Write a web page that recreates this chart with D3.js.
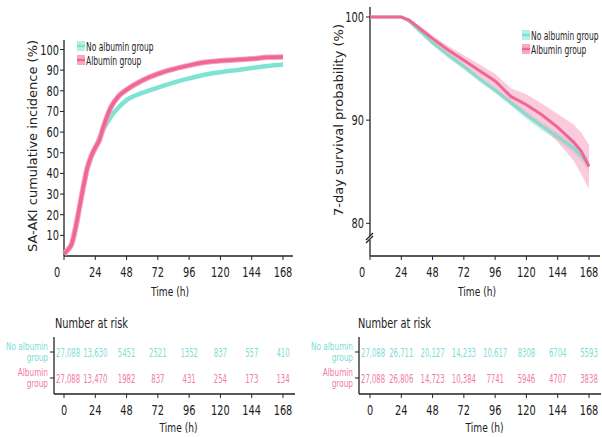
<!DOCTYPE html>
<html>
<head>
<meta charset="utf-8">
<script src="https://cdn.jsdelivr.net/npm/d3@7"></script>
<style>
  body { margin: 0; background: #fff; }
  svg text { font-family: "DejaVu Sans", sans-serif; fill: #222; }
</style>
</head>
<body>
<div id="chart"></div>
<script>
// ---- data ----
var hourTicks = [0, 24, 48, 72, 96, 120, 144, 168];
var groups = ["No albumin group", "Albumin group"];

// cumulative incidence of SA-AKI (%)
var incTime = [0, 3, 6, 9, 12, 15, 18, 21, 24, 27, 30, 33, 36, 42, 48, 60, 72, 84, 96, 108, 120, 132, 144, 156, 168];
var incNoAlb = [1, 3, 6, 14, 24, 34, 42, 48, 52, 57, 61, 64.5, 67.5, 72, 75.5, 79, 81.5, 84, 86, 87.8, 89, 90, 91, 92, 92.7];
var incAlb = [1, 3, 6, 14, 24, 34, 43, 48.5, 52.5, 56, 62, 67.5, 72, 77.5, 80.5, 85, 88.2, 90.5, 92.3, 93.8, 94.6, 95, 95.5, 96.2, 96.4];

// 7-day survival (%)
var survTime = [0, 24, 30, 36, 42, 48, 60, 72, 84, 96, 108, 120, 132, 144, 156, 162, 168];
var survNoAlb = [100, 100, 99.6, 98.9, 98.2, 97.5, 96.3, 95.2, 94.0, 92.9, 91.7, 90.5, 89.4, 88.4, 87.3, 86.6, 85.6];
var survNoAlbLo = [100, 100, 99.5, 98.7, 98.0, 97.3, 96.0, 94.9, 93.7, 92.6, 91.4, 90.1, 89.0, 88.0, 86.8, 86.1, 85.0];
var survNoAlbHi = [100, 100, 99.7, 99.1, 98.4, 97.7, 96.6, 95.5, 94.3, 93.2, 92.0, 90.9, 89.8, 88.8, 87.8, 87.1, 86.2];
var survAlb = [100, 100, 99.7, 99.1, 98.5, 97.9, 96.8, 95.8, 94.8, 93.8, 92.3, 91.5, 90.5, 89.3, 87.9, 87.0, 85.5];
var survAlbLo = [100, 100, 99.55, 98.9, 98.2, 97.6, 96.4, 95.3, 94.2, 93.1, 91.5, 90.5, 89.3, 87.9, 86.1, 84.8, 83.3];
var survAlbHi = [100, 100, 99.85, 99.3, 98.8, 98.2, 97.2, 96.3, 95.4, 94.5, 93.1, 92.5, 91.6, 90.6, 89.6, 88.8, 87.6];

// numbers at risk
var riskIncNoAlb = ["27,088", "13,630", "5451", "2521", "1352", "837", "557", "410"];
var riskIncAlb = ["27,088", "13,470", "1982", "837", "431", "254", "173", "134"];
var riskSurvNoAlb = ["27,088", "26,711", "20,127", "14,233", "10,617", "8308", "6704", "5593"];
var riskSurvAlb = ["27,088", "26,806", "14,723", "10,384", "7741", "5946", "4707", "3838"];

var incTicks = [10, 20, 30, 40, 50, 60, 70, 80, 90, 100];
var survTicks = [80, 90, 100];

var teal = "#7fe3d4", tealText = "#7ddcd6", tealBand = "#b5efe6";
var pink = "#f06794", pinkText = "#f07ba2", pinkBand = "#f7a9c4";

// the original figure is squeezed horizontally, so text gets narrowed
var SX = 0.7;
function hs(x, y, s) { return "translate(" + x + "," + y + ") scale(" + (s || SX) + ",1)"; }

var svg = d3.select("#chart").append("svg").attr("width", 602).attr("height", 437);

function bottomAxis(g, x, y0, x0, x1) {
  g.append("line").attr("x1", x0).attr("x2", x1).attr("y1", y0).attr("y2", y0)
    .attr("stroke", "#222").attr("stroke-width", 1.3);
  g.selectAll(null).data(hourTicks).enter().append("line")
    .attr("x1", d => x(d)).attr("x2", d => x(d)).attr("y1", y0).attr("y2", y0 + 4)
    .attr("stroke", "#222");
}

function xLabels(g, x, y, zeroShift) {
  g.selectAll(null).data(hourTicks).enter().append("text")
    .attr("transform", d => hs(d === 0 ? x(d) - zeroShift : x(d), y))
    .attr("text-anchor", "middle").attr("font-size", 14).text(d => d);
}

// ================= left: cumulative incidence =================
var xL = d3.scaleLinear().domain([0, 168]).range([64, 283]);
var yL = d3.scaleLinear().domain([0, 100]).range([256, 49.5]);
var gL = svg.append("g");

gL.append("line").attr("x1", 64).attr("x2", 64).attr("y1", 40).attr("y2", 256).attr("stroke", "#222").attr("stroke-width", 1.3);
bottomAxis(gL, xL, 256, 64, 293);
gL.selectAll(".yt").data(incTicks).enter().append("line")
  .attr("x1", 60).attr("x2", 64).attr("y1", d => yL(d)).attr("y2", d => yL(d)).attr("stroke", "#222");
gL.selectAll(".yl").data(incTicks).enter().append("text")
  .attr("transform", d => hs(59, yL(d) + 5)).attr("text-anchor", "end").attr("font-size", 14).text(d => d);
xLabels(gL, xL, 277, 7);
gL.append("text").attr("transform", hs(170, 296)).attr("text-anchor", "middle").attr("font-size", 13).text("Time (h)");
gL.append("text").attr("transform", "translate(37,146) rotate(-90)").attr("text-anchor", "middle")
  .attr("font-size", 13).text("SA-AKI cumulative incidence (%)");

var lineL = d3.line().x((d, i) => xL(incTime[i])).y(d => yL(d)).curve(d3.curveMonotoneX);
gL.append("path").datum(incNoAlb).attr("d", lineL).attr("fill", "none").attr("stroke", teal).attr("stroke-width", 4.5);
gL.append("path").datum(incAlb).attr("d", lineL).attr("fill", "none").attr("stroke", "#f7a0bd").attr("stroke-width", 5.5);
gL.append("path").datum(incAlb).attr("d", lineL).attr("fill", "none").attr("stroke", pink).attr("stroke-width", 3.5);

function legend(g, x0, y0) {
  var cols = [[tealBand, teal], [pinkBand, pink]];
  groups.forEach(function (name, i) {
    var y = y0 + i * 14;
    g.append("rect").attr("x", x0).attr("y", y - 5).attr("width", 8).attr("height", 10).attr("fill", cols[i][0]);
    g.append("line").attr("x1", x0).attr("x2", x0 + 8).attr("y1", y).attr("y2", y).attr("stroke", cols[i][1]).attr("stroke-width", 2.5);
    g.append("text").attr("transform", hs(x0 + 9, y + 4.5, 0.63)).attr("font-size", 12).text(name);
  });
}
legend(gL, 77, 46);

// ================= right: survival =================
var xR = d3.scaleLinear().domain([0, 168]).range([370, 589]);
var yR = d3.scaleLinear().domain([80, 100]).range([223.3, 17]);
var gR = svg.append("g");

gR.append("line").attr("x1", 370).attr("x2", 370).attr("y1", 7).attr("y2", 256).attr("stroke", "#222").attr("stroke-width", 1.3);
bottomAxis(gR, xR, 256, 370, 600);
// axis break
gR.append("rect").attr("x", 366).attr("y", 236).attr("width", 8).attr("height", 4).attr("fill", "#fff");
[0, 3].forEach(function (o) {
  gR.append("line").attr("x1", 366).attr("x2", 373).attr("y1", 240 + o).attr("y2", 233 + o).attr("stroke", "#222").attr("stroke-width", 1.2);
});
gR.selectAll(".yt").data(survTicks).enter().append("line")
  .attr("x1", 366).attr("x2", 370).attr("y1", d => yR(d)).attr("y2", d => yR(d)).attr("stroke", "#222");
gR.selectAll(".yl").data(survTicks).enter().append("text")
  .attr("transform", d => hs(364, yR(d) + 5)).attr("text-anchor", "end").attr("font-size", 14).text(d => d);
xLabels(gR, xR, 277, 8);
gR.append("text").attr("transform", hs(477, 296)).attr("text-anchor", "middle").attr("font-size", 13).text("Time (h)");
gR.append("text").attr("transform", "translate(343,120) rotate(-90)").attr("text-anchor", "middle")
  .attr("font-size", 13).text("7-day survival probability (%)");

var areaR = function (lo, hi) {
  return d3.area().x((d, i) => xR(survTime[i])).y0((d, i) => yR(lo[i])).y1((d, i) => yR(hi[i])).curve(d3.curveLinear);
};
var lineR = d3.line().x((d, i) => xR(survTime[i])).y(d => yR(d)).curve(d3.curveLinear);
gR.append("path").datum(survNoAlb).attr("d", areaR(survNoAlbLo, survNoAlbHi)).attr("fill", tealBand).attr("opacity", 0.8);
gR.append("path").datum(survAlb).attr("d", areaR(survAlbLo, survAlbHi)).attr("fill", pinkBand).attr("opacity", 0.6);
gR.append("path").datum(survNoAlb).attr("d", lineR).attr("fill", "none").attr("stroke", "#8fd6cc").attr("stroke-width", 3);
gR.append("path").datum(survAlb).attr("d", lineR).attr("fill", "none").attr("stroke", pink).attr("stroke-width", 3);
legend(gR, 522, 35);

// ================= number at risk tables =================
function riskTable(x, axisX, rows, title, titleX) {
  var g = svg.append("g");
  var rowY = [352, 378];
  g.append("text").attr("transform", hs(titleX, 328)).attr("font-size", 14).text(title);
  g.append("line").attr("x1", axisX).attr("x2", axisX).attr("y1", 337).attr("y2", 394).attr("stroke", "#222").attr("stroke-width", 1.3);
  bottomAxis(g, x, 394, axisX, x(168) + 12);
  var labCols = [tealText, pinkText];
  var labs = [["No albumin", "group"], ["Albumin", "group"]];
  rowY.forEach(function (y, r) {
    g.append("line").attr("x1", axisX - 4).attr("x2", axisX).attr("y1", y).attr("y2", y).attr("stroke", "#222");
    labs[r].forEach(function (t, k) {
      g.append("text").attr("transform", hs(axisX - 6, y - 2 + k * 11)).attr("text-anchor", "end")
        .attr("font-size", 10.5).style("fill", labCols[r]).text(t);
    });
    g.selectAll(null).data(rows[r]).enter().append("text")
      .attr("transform", (d, i) => hs(i === 0 ? axisX + 2 : x(hourTicks[i]), y + 4.5, 0.6))
      .attr("text-anchor", (d, i) => i === 0 ? "start" : "middle")
      .attr("font-size", 11.5).style("fill", labCols[r]).text(d => d);
  });
  xLabels(g, x, 415, 0);
  g.append("text").attr("transform", hs((x(0) + x(168)) / 2 + 5, 432)).attr("text-anchor", "middle").attr("font-size", 13).text("Time (h)");
}
riskTable(xL, 54, [riskIncNoAlb, riskIncAlb], "Number at risk", 55);
riskTable(xR, 359, [riskSurvNoAlb, riskSurvAlb], "Number at risk", 358);
</script>
</body>
</html>
